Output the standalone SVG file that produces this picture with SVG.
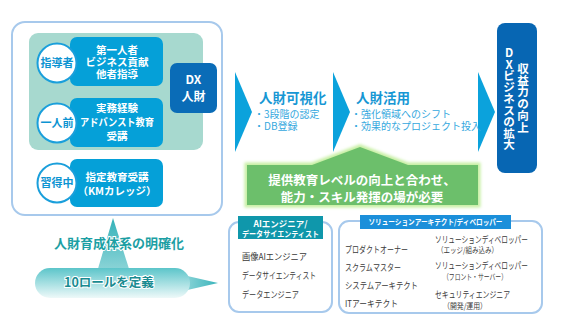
<svg xmlns="http://www.w3.org/2000/svg" width="561" height="331" viewBox="0 0 561 331">
<defs>
<style>
text{font-family:"Noto Sans CJK JP","Noto Sans",sans-serif}
.wb{fill:#fff;font-weight:700;text-anchor:middle}
.circ{fill:#fff;stroke:#1a9fdb;stroke-width:2}
.cl{fill:#0c94d2;font-weight:700;font-size:11px;text-anchor:middle}
.bbox{fill:#05a0d8}
.chev{fill:#0ba2dc}
.h1{fill:#1797d4;font-weight:700;font-size:13.5px}
.bul{fill:#35a8de;font-size:10px}
.item{fill:#3a3a3a;font-size:9px}
.sub{fill:#3a3a3a;font-size:8px}
.frame{fill:#fff;stroke:#a7c9ec;stroke-width:2}
.vt{fill:#fff;font-weight:700;font-size:11.5px;text-anchor:middle}
.teal{fill:#1c9fa4;font-weight:700;text-anchor:middle;stroke:#fff;stroke-width:2;paint-order:stroke}
</style>
<linearGradient id="gTri" x1="0" y1="0" x2="0" y2="1">
<stop offset="0" stop-color="#34b2b9"/><stop offset="1" stop-color="#8fd5d8"/>
</linearGradient>
<linearGradient id="gPill" x1="0" y1="0" x2="0" y2="1">
<stop offset="0" stop-color="#5cc5ca"/><stop offset="1" stop-color="#eef9f9"/>
</linearGradient>
<linearGradient id="gTail" x1="0" y1="0" x2="1" y2="0">
<stop offset="0" stop-color="#8fd6d9"/><stop offset="1" stop-color="#3ab4bb"/>
</linearGradient>
<filter id="glow" x="-10%" y="-20%" width="120%" height="140%">
<feGaussianBlur stdDeviation="1.8"/>
</filter>
</defs>
<rect width="561" height="331" fill="#fff"/>

<g id="dx-frame">
<rect x="12" y="22" width="210" height="193" rx="13" class="frame" stroke-width="2.5"/>
<rect x="29" y="33" width="174" height="117" rx="9" fill="#a7d9cf"/>
</g>

<g id="node-shidousha">
<rect x="70" y="37" width="93" height="49" rx="7" class="bbox"/>
<text class="wb" font-size="10.5" x="117" y="54">第一人者</text>
<text class="wb" font-size="10.5" x="117" y="66">ビジネス貢献</text>
<text class="wb" font-size="10.5" x="117" y="78">他者指導</text>
<circle cx="57" cy="63" r="19.5" class="circ"/>
<text class="cl" x="57" y="67">指導者</text>
</g>

<g id="node-ichininmae">
<rect x="70" y="98" width="93" height="49" rx="7" class="bbox"/>
<text class="wb" font-size="10.5" x="117" y="112">実務経験</text>
<text class="wb" font-size="10.5" x="117" y="126" textLength="74" lengthAdjust="spacingAndGlyphs">アドバンスト教育</text>
<text class="wb" font-size="10.5" x="117" y="140">受講</text>
<circle cx="57" cy="123" r="19.5" class="circ"/>
<text class="cl" x="57" y="127">一人前</text>
</g>

<g id="node-shutokuchu">
<rect x="70" y="159" width="93" height="48" rx="7" class="bbox"/>
<text class="wb" font-size="10.5" x="117" y="181">指定教育受講</text>
<text class="wb" font-size="10.5" x="117" y="195">（KMカレッジ）</text>
<circle cx="57" cy="183" r="19.5" class="circ"/>
<text class="cl" x="57" y="187">習得中</text>
</g>

<g id="node-dx">
<rect x="170" y="63" width="47" height="50" rx="7" fill="#0a6cb7"/>
<text class="wb" font-size="12" x="193.5" y="84">DX</text>
<text class="wb" font-size="12" x="193.5" y="101">人財</text>
</g>

<g id="connectors">
<polygon class="chev" points="235,72 252,112 235,152"/>
<polygon class="chev" points="333,72 350,112 333,152"/>
<polygon class="chev" points="478,72 495,112 478,152"/>
<path d="M247,165 H312 L360,147 L408,165 H478 V205 H247 Z" fill="#c6efa2" stroke="#c6efa2" stroke-width="5" filter="url(#glow)"/>
<polygon points="97,272 113,218 130,272" fill="url(#gTri)"/>
<polygon points="183,275 218,283 183,291" fill="url(#gTail)"/>
</g>

<g id="node-visualize">
<text class="h1" x="259" y="103">人財可視化</text>
<text class="bul" x="254" y="118">・3段階の認定</text>
<text class="bul" x="254" y="130">・DB登録</text>
</g>

<g id="node-utilize">
<text class="h1" x="356" y="103">人財活用</text>
<text class="bul" x="351" y="118">・強化領域へのシフト</text>
<text class="bul" x="351" y="130">・効果的なプロジェクト投入</text>
</g>

<g id="node-goal">
<rect x="497" y="23" width="40" height="150" rx="8" fill="#0766b3"/>
<text class="vt" x="523 523 523 523 523 523" y="73 84.7 96.4 108.1 119.8 131.5">収益力の向上</text>
<text class="vt" x="509 509 509 509 509 509 509 509 509" y="57 68.5 80 91.5 103 114.5 126 137.5 149">DXビジネスの拡大</text>
</g>

<g id="node-need">
<path d="M247,165 H312 L360,147 L408,165 H478 V205 H247 Z" fill="#6cbf6b"/>
<text class="wb" font-size="12.5" x="362" y="185">提供教育レベルの向上と合わせ、</text>
<text class="wb" font-size="12.5" x="362" y="202">能力・スキル発揮の場が必要</text>
</g>

<g id="node-system">
<text class="teal" font-size="13" x="119" y="248">人財育成体系の明確化</text>
</g>

<g id="node-roles">
<rect x="35" y="268" width="155" height="30" rx="15" fill="url(#gPill)"/>
<text class="teal" font-size="12.5" x="109" y="287" style="fill:#1a8b91">10ロールを定義</text>
</g>

<g id="node-ai">
<rect x="229" y="222" width="103" height="90" rx="10" class="frame"/>
<rect x="238" y="216" width="85" height="23" fill="#0f97ab"/>
<text class="wb" font-size="8.5" x="280.5" y="226.5">AIエンジニア/</text>
<text class="wb" font-size="8" x="280.5" y="236.5" textLength="77" lengthAdjust="spacingAndGlyphs">データサイエンティスト</text>
<text class="item" x="242" y="260" textLength="65" lengthAdjust="spacingAndGlyphs">画像AIエンジニア</text>
<text class="item" x="242" y="279" textLength="74" lengthAdjust="spacingAndGlyphs">データサイエンティスト</text>
<text class="item" x="242" y="298" textLength="57" lengthAdjust="spacingAndGlyphs">データエンジニア</text>
</g>

<g id="node-solution">
<rect x="339" y="221" width="203" height="92" rx="10" class="frame"/>
<rect x="360" y="215" width="151" height="14" fill="#1b8fda"/>
<text class="wb" font-size="7.5" x="435.5" y="225" textLength="134" lengthAdjust="spacingAndGlyphs">ソリューションアーキテクト/ディベロッパー</text>
<text class="item" x="345" y="253" textLength="63" lengthAdjust="spacingAndGlyphs">プロダクトオーナー</text>
<text class="item" x="345" y="271" textLength="56" lengthAdjust="spacingAndGlyphs">スクラムマスター</text>
<text class="item" x="345" y="289" textLength="73" lengthAdjust="spacingAndGlyphs">システムアーキテクト</text>
<text class="item" x="345" y="307" textLength="53" lengthAdjust="spacingAndGlyphs">ITアーキテクト</text>
<text class="item" font-size="8.5" x="435" y="243" textLength="93" lengthAdjust="spacingAndGlyphs">ソリューションディベロッパー</text>
<text class="sub" x="437" y="253" textLength="61" lengthAdjust="spacingAndGlyphs">（エッジ/組み込み）</text>
<text class="item" font-size="8.5" x="435" y="269" textLength="93" lengthAdjust="spacingAndGlyphs">ソリューションディベロッパー</text>
<text class="sub" x="443" y="280" textLength="64" lengthAdjust="spacingAndGlyphs">（フロント・サーバー）</text>
<text class="item" x="435" y="298" textLength="75" lengthAdjust="spacingAndGlyphs">セキュリティエンジニア</text>
<text class="sub" x="443" y="309" textLength="44" lengthAdjust="spacingAndGlyphs">（開発/運用）</text>
</g>
</svg>
